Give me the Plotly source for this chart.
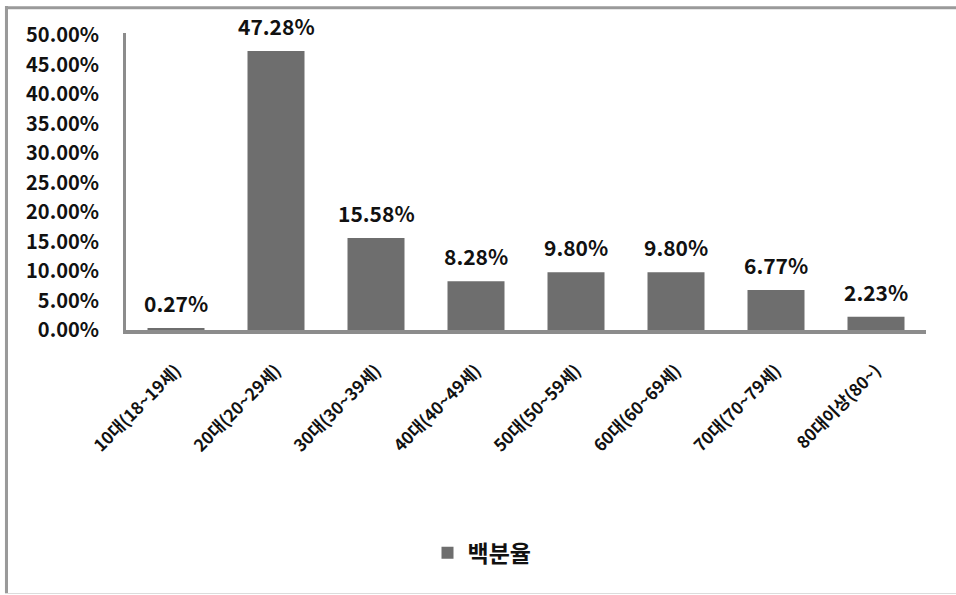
import plotly.graph_objects as go

categories = ["10대(18~19세)", "20대(20~29세)", "30대(30~39세)", "40대(40~49세)",
              "50대(50~59세)", "60대(60~69세)", "70대(70~79세)", "80대이상(80~)"]
values = [0.27, 47.28, 15.58, 8.28, 9.80, 9.80, 6.77, 2.23]
series_name = "백분율"
y_ticks = [0, 5, 10, 15, 20, 25, 30, 35, 40, 45, 50]

FONT = "Noto Sans CJK KR"
BAR = "#6e6e6e"
AXIS = "#8c8c8c"

fig = go.Figure()
fig.add_trace(go.Bar(
    x=categories, y=values, name=series_name,
    marker=dict(color=BAR, line=dict(width=0)),
    width=0.57, showlegend=True,
))

for c, v in zip(categories, values):
    fig.add_annotation(x=c, y=v, text=f"{v:.2f}%", showarrow=False,
                       yanchor="bottom", yshift=8,
                       font=dict(family=FONT, size=21, color="#111111", weight="bold"))

fig.update_layout(
    width=956, height=595,
    margin=dict(l=126, r=30, t=33, b=265),
    paper_bgcolor="white", plot_bgcolor="white",
    font=dict(family=FONT, color="#111111"),
    bargap=0.43,
    legend=dict(orientation="h", x=0.445, xanchor="center", y=-0.75, yanchor="middle",
                font=dict(family=FONT, size=23, color="#111111", weight="bold"),
                itemwidth=30),
    xaxis=dict(
        showline=True, linecolor=AXIS, linewidth=4, ticks="",
        tickangle=-45, ticklabelstandoff=20,
        tickfont=dict(family=FONT, size=17, color="#111111", weight="bold"),
        showgrid=False, zeroline=False,
    ),
    yaxis=dict(
        range=[0, 50.34], tickvals=y_ticks,
        ticktext=[f"{t:.2f}%" for t in y_ticks],
        showline=True, linecolor=AXIS, linewidth=3, ticks="",
        ticklabelstandoff=20,
        tickfont=dict(family=FONT, size=20, color="#111111", weight="bold"),
        showgrid=False, zeroline=False,
    ),
    shapes=[
        dict(type="rect", xref="paper", yref="paper",
             x0=-0.1513, x1=-0.1475, y0=-0.8855, y1=1.0909,
             fillcolor="#9a9a9a", line=dict(width=0), layer="above"),
        dict(type="line", xref="x domain", yref="y domain",
             x0=-0.15, x1=1.04, y0=1.085, y1=1.085,
             line=dict(color="#9a9a9a", width=3), layer="above"),
        dict(type="rect", xref="paper", yref="paper",
             x0=-0.1513, x1=1.04, y0=-0.8889, y1=-0.8855,
             fillcolor="#dcdcdc", line=dict(width=0), layer="above"),
    ],
)

fig.write_html("out.html", config={"displayModeBar": False},
               post_script="document.body.style.margin='0px';")
